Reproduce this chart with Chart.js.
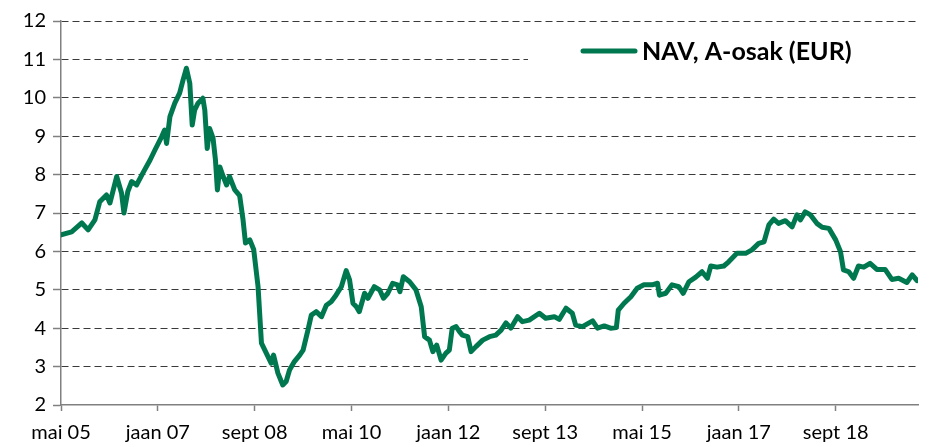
<!DOCTYPE html>
<html>
<head>
<meta charset="utf-8">
<script src="https://cdn.jsdelivr.net/npm/chart.js@4"></script>
<style>
  html, body { margin: 0; padding: 0; background: #fff; }
  #wrap { width: 930px; height: 447px; }
</style>
</head>
<body>
<div id="wrap"><canvas id="graf"></canvas></div>
<script>
// kuud alates mai 2005 (0 = mai 05)
var monthIndex = [0, 2.2, 4.3, 5.6, 7.0, 8.0, 9.4, 10.1, 11.5, 12.5, 13.0, 13.8, 14.6, 15.6, 16.9,
  18.4, 19.4, 20.8, 21.4, 21.8, 22.5, 23.5, 24.5, 25.2, 25.9, 26.6, 27.1, 27.6, 28.3, 29.3, 29.7,
  30.2, 30.7, 31.4, 31.9, 32.3, 32.8, 33.5, 34.2, 34.8, 35.9, 36.9, 37.6, 38.1, 39.0, 39.8, 40.7,
  41.4, 42.4, 43.4, 43.9, 44.8, 45.8, 46.5, 47.2, 48.2, 49.3, 50.0, 51.0, 51.7, 52.7, 53.8, 54.8,
  55.8, 56.8, 57.9, 58.9, 59.6, 60.3, 61.0, 61.6, 62.7, 63.4, 64.7, 65.8, 66.6, 67.5, 68.5, 69.5,
  70.0, 70.7, 72.0, 73.3, 74.4, 75.1, 76.1, 76.8, 77.6, 78.5, 79.5, 80.2, 80.8, 81.6, 82.3, 82.9,
  84.0, 84.7, 85.7, 87.1, 88.5, 89.8, 90.9, 91.9, 92.9, 94.3, 95.3, 96.7, 98.8, 100.1, 101.9, 102.9,
  104.3, 105.6, 106.3, 107.7, 109.8, 110.8, 112.2, 113.5, 114.7, 115.1, 116.3, 117.7, 119.0, 120.4,
  122.1, 123.2, 123.6, 124.9, 126.2, 127.6, 128.5, 129.7, 131.1, 132.4, 133.5, 134.2, 135.5, 136.9,
  137.9, 139.6, 141.4, 142.7, 144.1, 145.2, 146.2, 147.2, 148.2, 149.6, 151.0, 152.0, 152.7, 153.7,
  154.8, 156.1, 157.2, 158.6, 160.0, 161.0, 161.6, 162.7, 163.7, 164.7, 165.8, 167.1, 168.5, 170.2,
  171.6, 173.0, 174.7, 175.8, 176.8];

// NAV väärtused (EUR)
var navValues = [6.43, 6.51, 6.74, 6.56, 6.82, 7.29, 7.47, 7.26, 7.95, 7.52, 7.0, 7.56, 7.82, 7.73, 8.04,
  8.38, 8.64, 8.99, 9.16, 8.81, 9.51, 9.86, 10.12, 10.46, 10.77, 10.38, 9.29, 9.68, 9.86, 9.99, 9.68,
  8.68, 9.2, 8.95, 8.38, 7.6, 8.2, 7.95, 7.73, 7.95, 7.6, 7.45, 6.82, 6.22, 6.3, 6.05, 5.08,
  3.61, 3.35, 3.09, 3.3, 2.83, 2.52, 2.61, 2.91, 3.13, 3.3, 3.43, 3.95, 4.34, 4.43, 4.3, 4.6,
  4.69, 4.86, 5.08, 5.5, 5.26, 4.65, 4.56, 4.43, 4.91, 4.78, 5.08, 5.0, 4.78, 4.91, 5.17, 5.13,
  4.95, 5.34, 5.21, 5.0, 4.56, 3.78, 3.69, 3.39, 3.56, 3.17, 3.35, 3.43, 4.0, 4.04, 3.91, 3.82,
  3.78, 3.39, 3.52, 3.69, 3.78, 3.82, 3.95, 4.14, 4.0, 4.3, 4.17, 4.21, 4.39, 4.26, 4.3, 4.23,
  4.52, 4.39, 4.08, 4.04, 4.19, 4.0, 4.06, 4.0, 4.02, 4.47, 4.65, 4.82, 5.04, 5.13,
  5.13, 5.17, 4.86, 4.91, 5.13, 5.08, 4.91, 5.21, 5.33, 5.47, 5.3, 5.62, 5.59, 5.62,
  5.73, 5.95, 5.95, 6.04, 6.21, 6.25, 6.69, 6.84, 6.73, 6.80, 6.64, 6.95, 6.82, 7.03,
  6.95, 6.73, 6.63, 6.6, 6.3, 5.99, 5.52, 5.47, 5.3, 5.62, 5.59, 5.69, 5.53, 5.53,
  5.27, 5.3, 5.19, 5.39, 5.24];

// x-telje sildid iga 20 kuu tagant
var tickLabels = ['mai 05', 'jaan 07', 'sept 08', 'mai 10', 'jaan 12', 'sept 13', 'mai 15', 'jaan 17', 'sept 18'];
var yTicks = [2, 3, 4, 5, 6, 7, 8, 9, 10, 11, 12];

var punktid = monthIndex.map(function (m, i) { return { x: m, y: navValues[i] }; });

// legend valgel taustal graafiku sees
var legendPlugin = {
  id: 'legendInside',
  afterDraw: function (chart) {
    var ctx = chart.ctx;
    var ds = chart.data.datasets[0];
    ctx.save();
    ctx.fillStyle = '#ffffff';
    ctx.fillRect(528, 28, 390, 50);
    ctx.strokeStyle = ds.borderColor;
    ctx.lineWidth = 5;
    ctx.lineCap = 'round';
    ctx.beginPath();
    ctx.moveTo(583, 51);
    ctx.lineTo(635, 51);
    ctx.stroke();
    ctx.fillStyle = '#000';
    ctx.font = 'bold 25px Lato';
    ctx.textBaseline = 'middle';
    ctx.fillText(ds.label, 642, 52);
    ctx.restore();
  }
};

var ctx = document.getElementById('graf');
var graf = new Chart(ctx, {
  type: 'line',
  data: {
    datasets: [{
      label: 'NAV, A-osak (EUR)',
      data: punktid,
      borderColor: '#00784F',
      borderWidth: 5,
      pointRadius: 0,
      tension: 0,
      borderCapStyle: 'round',
      borderJoinStyle: 'round',
      fill: false
    }]
  },
  options: {
    responsive: true,
    maintainAspectRatio: false,
    animation: false,
    layout: { padding: { top: 21, right: 12, left: 0, bottom: 0 } },
    plugins: {
      legend: { display: false },
      tooltip: { enabled: false }
    },
    scales: {
      x: {
        type: 'linear',
        min: 0,
        max: 177,
        grid: { drawOnChartArea: false, drawTicks: true, tickLength: 6, tickColor: '#808080', tickWidth: 1.5 },
        border: { color: '#808080', width: 1.5 },
        ticks: {
          stepSize: 20,
          includeBounds: false,
          maxRotation: 0,
          autoSkip: false,
          padding: 10,
          color: '#000',
          font: { family: 'Lato', size: 20 },
          callback: function (v) { return tickLabels[Math.round(v / 20)]; }
        },
        afterFit: function (s) { s.height = 42; }
      },
      y: {
        min: yTicks[0],
        max: yTicks[yTicks.length - 1],
        grid: {
          color: function (c) { return c.tick && c.tick.value === yTicks[0] ? 'rgba(0,0,0,0)' : '#3a3a3a'; },
          lineWidth: 1,
          tickLength: 8,
          tickColor: '#808080',
          tickWidth: 1.5
        },
        border: { color: '#808080', width: 1.5, dash: [7, 4] },
        ticks: {
          stepSize: 1,
          padding: 7,
          color: '#000',
          font: { family: 'Lato', size: 20 }
        },
        afterFit: function (s) { s.width = 61; }
      }
    }
  },
  plugins: [legendPlugin]
});
</script>
</body>
</html>
